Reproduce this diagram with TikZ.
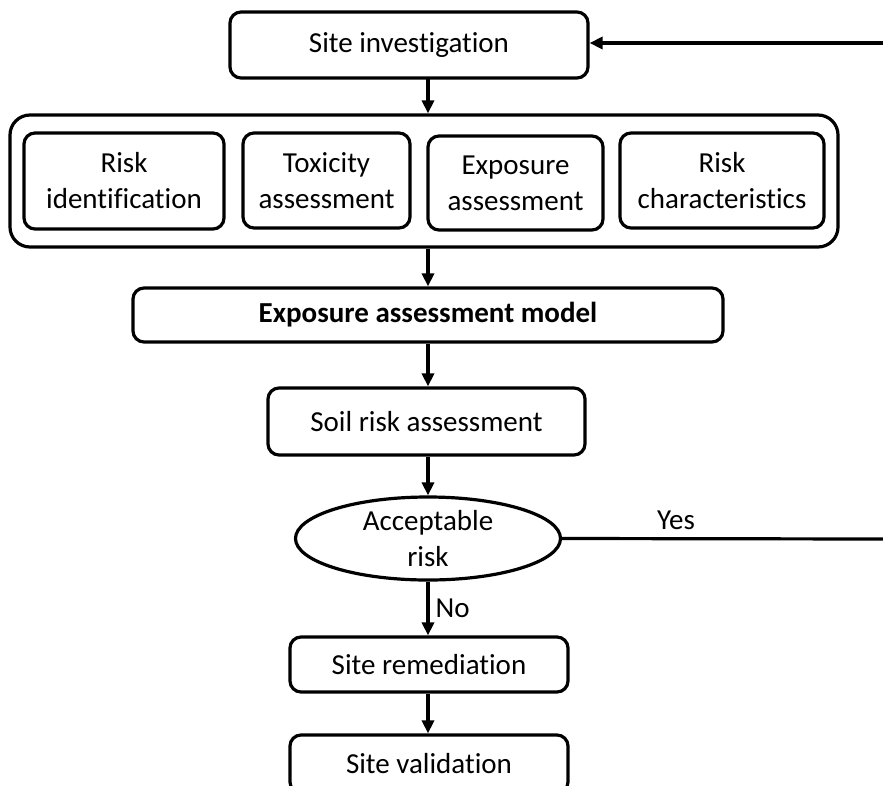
\documentclass[tikz,border=0pt]{standalone}
\usepackage{fontspec}
\setmainfont{Carlito}[Ligatures=NoCommon]
\usetikzlibrary{shapes.geometric,arrows.meta}
\begin{document}
\begin{tikzpicture}[x=1pt,y=-1pt,
  every node/.style={font=\fontsize{29}{36}\selectfont, align=center, inner sep=0pt},
  rbox/.style={draw, line width=3.2pt, rounded corners=11pt},
  flow/.style={line width=3.2pt, -{Triangle[length=13pt,width=12pt]}},
  plain/.style={line width=3.2pt}]
\useasboundingbox (0,0) rectangle (883,785);
% boxes
\node[rbox, minimum width=358pt, minimum height=66pt] (inv) at (409,45) {Site investigation};
\node[rbox, rounded corners=20pt, minimum width=828pt, minimum height=132pt] (outer) at (424,181) {};
\node[rbox, minimum width=200pt, minimum height=96pt] (rid) at (124,181) {Risk\\identification};
\node[rbox, minimum width=167pt, minimum height=95pt] (tox) at (326.5,180.5) {Toxicity\\assessment};
\node[rbox, minimum width=175pt, minimum height=94pt] (exa) at (515.5,183) {Exposure\\assessment};
\node[rbox, minimum width=204pt, minimum height=95pt] (rch) at (722,180.5) {Risk\\characteristics};
\node[rbox, minimum width=590pt, minimum height=54pt, font=\fontsize{29}{36}\selectfont\bfseries] (eam) at (428,315) {Exposure assessment model};
\node[rbox, minimum width=317pt, minimum height=67pt] (soil) at (426.5,421.5) {Soil risk assessment};
\node[draw, ellipse, line width=3.2pt, minimum width=265pt, minimum height=83pt] (acc) at (428,538.5) {Acceptable\\risk};
\node[rbox, minimum width=278pt, minimum height=55pt] (rem) at (429,664.5) {Site remediation};
\node[rbox, minimum width=278pt, minimum height=58pt] (val) at (429,764) {Site validation};
% connectors
\coordinate (r1) at (884,539);
\coordinate (r2) at (884,43);
\draw[flow] (428,78) -- (outer.north -| 428,0);
\draw[flow] (outer.south -| 428,0) -- (eam.north -| 428,0);
\draw[flow] (eam.south -| 428,0) -- (soil.north -| 428,0);
\draw[flow] (soil.south -| 428,0) -- (acc.north -| 428,0);
\draw[flow] (acc.south) -- (rem.north -| acc.south) node[midway, right=6pt] {No};
\draw[flow] (rem.south -| acc.south) -- (val.north -| acc.south);
\draw[plain] (acc.east) -- (r1);
\node (yes) at (676,520) {Yes};
\draw[flow] (r2) -- (inv.east |- r2);
\end{tikzpicture}
\end{document}
